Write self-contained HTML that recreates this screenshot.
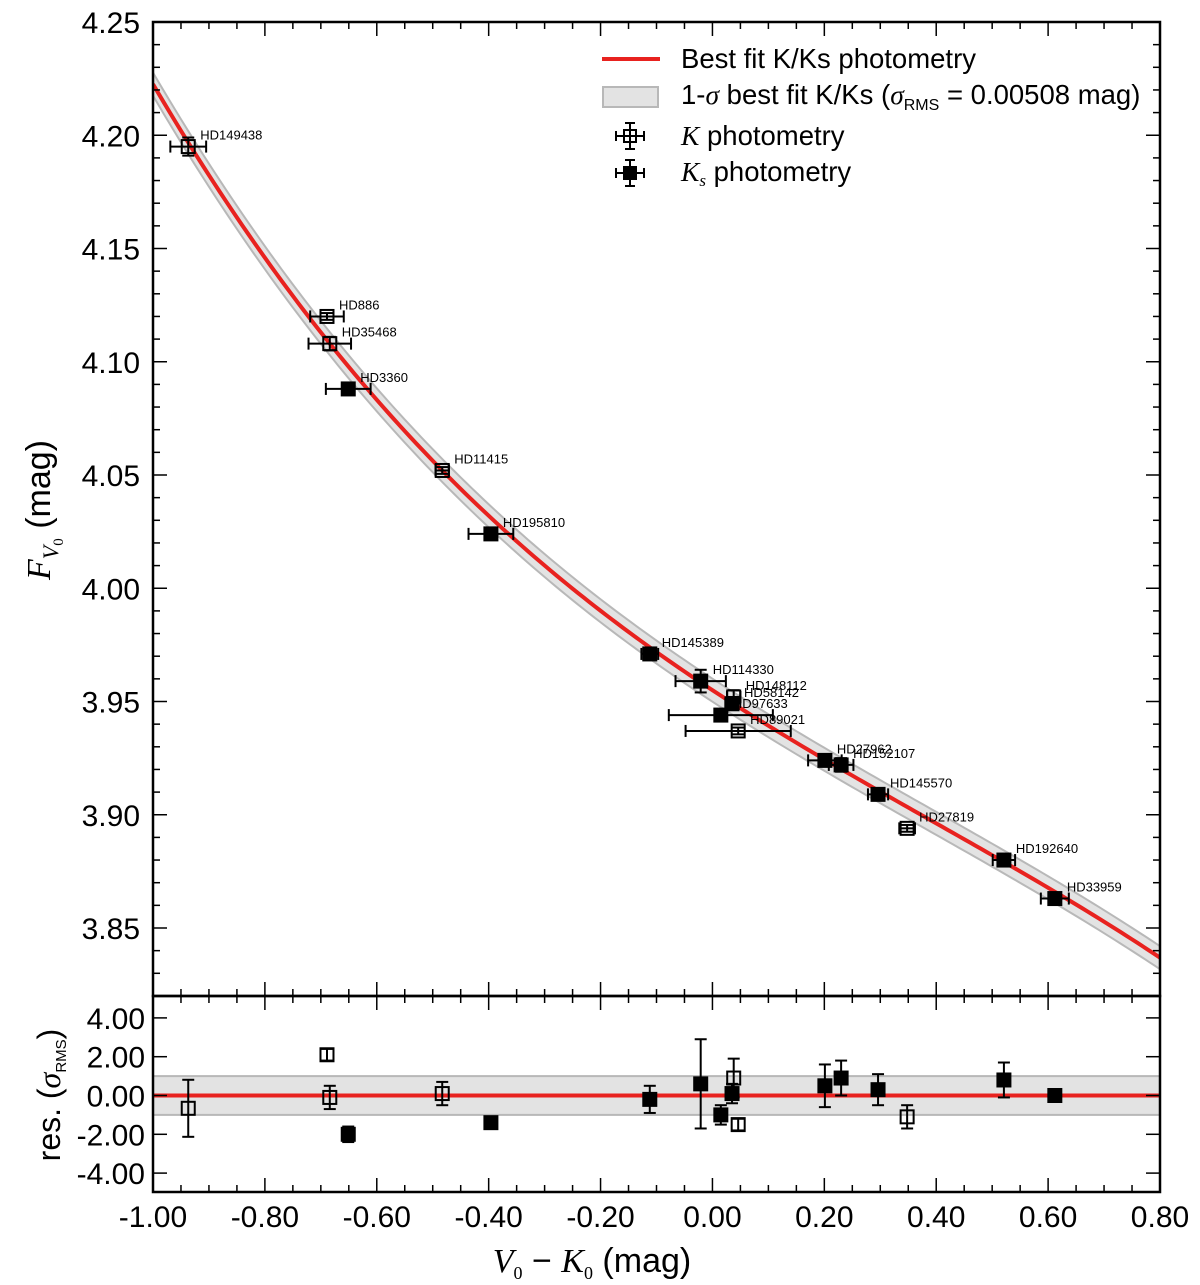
<!DOCTYPE html>
<html><head><meta charset="utf-8"><style>
html,body{margin:0;padding:0;background:#fff;}
svg{display:block;font-family:"Liberation Sans",sans-serif;}
</style></head><body>
<svg id="chart" width="1200" height="1285" viewBox="0 0 1200 1285"></svg>
<script>
// ---- data ----
const stars = ["HD149438","HD886","HD35468","HD3360","HD11415","HD195810","HD145389","HD114330","HD97633","HD58142","HD148112","HD89021","HD27962","HD152107","HD145570","HD27819","HD192640","HD33959"];
const xVals = [-0.937,-0.689,-0.684,-0.651,-0.483,-0.396,-0.112,-0.021,0.015,0.035,0.038,0.046,0.201,0.230,0.296,0.348,0.521,0.612];
const yVals = [4.195,4.120,4.108,4.088,4.052,4.024,3.971,3.959,3.944,3.949,3.952,3.937,3.924,3.922,3.909,3.894,3.880,3.863];
const xErr = [0.032,0.030,0.038,0.040,0.012,0.040,0.015,0.045,0.093,0.012,0.012,0.094,0.030,0.022,0.018,0.014,0.020,0.025];
const yErr = [0.0040,0.0015,0.0030,0.0020,0.0015,0.0020,0.0020,0.0050,0.0020,0.0020,0.0030,0.0015,0.0025,0.0030,0.0020,0.0015,0.0025,0.0015];
const isKs = [0,0,0,1,0,1,1,1,1,1,0,0,1,1,1,0,1,1];
const resVals = [-0.66,2.1,-0.1,-2.0,0.1,-1.4,-0.2,0.6,-1.0,0.1,0.9,-1.5,0.5,0.9,0.3,-1.1,0.8,0.0];
const resErr = [1.47,0.3,0.6,0.4,0.6,0.3,0.7,2.3,0.5,0.5,1.0,0.3,1.1,0.9,0.8,0.6,0.9,0.3];
const fitCoef = [3.955,-0.1620,0.0569,-0.04866];
const sigmaRms = 0.00508;
const xTicks = [-1.0,-0.8,-0.6,-0.4,-0.2,0.0,0.2,0.4,0.6,0.8];
const xTickLabels = ["-1.00","-0.80","-0.60","-0.40","-0.20","0.00","0.20","0.40","0.60","0.80"];
const yTicks = [3.85,3.90,3.95,4.00,4.05,4.10,4.15,4.20,4.25];
const yTickLabels = ["3.85","3.90","3.95","4.00","4.05","4.10","4.15","4.20","4.25"];
const rTicks = [-4,-2,0,2,4];
const rTickLabels = ["-4.00","-2.00","0.00","2.00","4.00"];

// ---- geometry ----
const L=153,R=1160,T=22,MB=996,RB=1192;
const X=v=>L+(v+1.0)*(R-L)/1.8;
const Y=v=>T+(4.25-v)*2265;
const RY=v=>1095.5-v*19.4;
const fit=x=>fitCoef[0]+fitCoef[1]*x+fitCoef[2]*x*x+fitCoef[3]*x*x*x;
const svg=document.getElementById('chart');
const NS='http://www.w3.org/2000/svg';
function mk(tag,attrs,parent){const e=document.createElementNS(NS,tag);for(const k in attrs)e.setAttribute(k,attrs[k]);(parent||svg).appendChild(e);return e;}

const defs=mk('defs',{});
const c1=mk('clipPath',{id:'cm'},defs);mk('rect',{x:L,y:T,width:R-L,height:MB-T},c1);
const c2=mk('clipPath',{id:'cr'},defs);mk('rect',{x:L,y:MB,width:R-L,height:RB-MB},c2);
const gm=mk('g',{'clip-path':'url(#cm)'});


const gr=mk('g',{'clip-path':'url(#cr)'});



let up=[],dn=[],ln=[];
for(let i=0;i<=180;i++){const x=-1+i*0.01;up.push(X(x)+','+Y(fit(x)+sigmaRms));dn.unshift(X(x)+','+Y(fit(x)-sigmaRms));ln.push(X(x)+','+Y(fit(x)));}
const band=mk('polygon',{points:up.concat(dn).join(' '),fill:'#e3e3e3',stroke:'#b8b8b8','stroke-width':2},gm);


const fl=mk('polyline',{points:ln.join(' '),fill:'none',stroke:'#e8221f','stroke-width':4},gm);



const rb=mk('rect',{x:L,y:RY(1),width:R-L,height:RY(-1)-RY(1),fill:'#e3e3e3',stroke:'#b8b8b8','stroke-width':2},gr);


const rl=mk('line',{x1:L,x2:R,y1:RY(0),y2:RY(0),stroke:'#e8221f','stroke-width':4},gr);



function point(g,cx,cy,x0,x1,y0,y1,filled,name){
  const p=mk('g',{},g);
  
  
  const st={stroke:'#000','stroke-width':2};
  if(x0!==null){mk('line',Object.assign({x1:x0,x2:x1,y1:cy,y2:cy},st),p);
    mk('line',Object.assign({x1:x0,x2:x0,y1:cy-6,y2:cy+6},st),p);mk('line',Object.assign({x1:x1,x2:x1,y1:cy-6,y2:cy+6},st),p);}
  mk('line',Object.assign({x1:cx,x2:cx,y1:y0,y2:y1},st),p);
  mk('line',Object.assign({x1:cx-6,x2:cx+6,y1:y0,y2:y0},st),p);mk('line',Object.assign({x1:cx-6,x2:cx+6,y1:y1,y2:y1},st),p);
  mk('rect',{x:cx-6.5,y:cy-6.5,width:13,height:13,fill:filled?'#000':'none',stroke:'#000','stroke-width':2},p);
}
for(let i=0;i<stars.length;i++){
  const cx=X(xVals[i]),cy=Y(yVals[i]);
  point(gm,cx,cy,X(xVals[i]-xErr[i]),X(xVals[i]+xErr[i]),Y(yVals[i]+yErr[i]),Y(yVals[i]-yErr[i]),isKs[i],'point-'+stars[i].toLowerCase());
  const t=mk('text',{x:cx+12,y:cy-7,'font-size':13,fill:'#000'});t.textContent=stars[i];
  
  
  const rx=X(xVals[i]),ry=RY(resVals[i]);
  point(gr,rx,ry,null,null,RY(resVals[i]+resErr[i]),RY(resVals[i]-resErr[i]),isKs[i],'residual-'+stars[i].toLowerCase());
}

const f1=mk('rect',{x:L,y:T,width:R-L,height:MB-T,fill:'none',stroke:'#000','stroke-width':2.5});

const f2=mk('rect',{x:L,y:MB,width:R-L,height:RB-MB,fill:'none',stroke:'#000','stroke-width':2.5});


const tk={stroke:'#000','stroke-width':1.5};
for(let i=0;i<=36;i++){const v=-1+i*0.05;const px=X(v);const maj=i%4===0;const len=maj?14:7;
  for(const [yb,yt] of [[MB,T],[RB,MB]]){mk('line',Object.assign({x1:px,x2:px,y1:yb,y2:yb-len},tk));mk('line',Object.assign({x1:px,x2:px,y1:yt,y2:yt+len},tk));}}
xTicks.forEach((v,i)=>{const t=mk('text',{x:X(v),y:1227,'font-size':30,'text-anchor':'middle'});t.textContent=xTickLabels[i];
  });
for(let i=0;i<=43;i++){const v=3.82+i*0.01;const py=Y(v);if(py<T||py>MB)continue;const maj=Math.abs((v*100)%5)<0.01||Math.abs((v*100)%5-5)<0.01;const len=maj?14:7;
  mk('line',Object.assign({x1:L,x2:L+len,y1:py,y2:py},tk));mk('line',Object.assign({x1:R,x2:R-len,y1:py,y2:py},tk));}
yTicks.forEach((v,i)=>{const t=mk('text',{x:140,y:Y(v)+11,'font-size':30,'text-anchor':'end'});t.textContent=yTickLabels[i];
  });
rTicks.forEach((v,i)=>{const py=RY(v);mk('line',Object.assign({x1:L,x2:L+14,y1:py,y2:py},tk));mk('line',Object.assign({x1:R,x2:R-14,y1:py,y2:py},tk));
  const t=mk('text',{x:145,y:py+11,'font-size':30,'text-anchor':'end'});t.textContent=rTickLabels[i];
  });
</script>
<svg width="1200" height="1285" style="position:absolute;left:0;top:0">
 <g transform="translate(50,510) rotate(-90)">
  <text text-anchor="middle" font-size="34"><tspan font-family="Liberation Serif,serif" font-style="italic">F</tspan><tspan font-family="Liberation Serif,serif" font-style="italic" font-size="22" dy="8">V</tspan><tspan font-family="Liberation Serif,serif" font-size="15" dy="5">0</tspan><tspan dy="-13"> (mag)</tspan></text>
 </g>
 <g transform="translate(60,1095) rotate(-90)">
  <text text-anchor="middle" font-size="32">res. (<tspan font-family="Liberation Serif,serif" font-style="italic">σ</tspan><tspan font-size="15" dy="6">RMS</tspan><tspan dy="-6">)</tspan></text>
 </g>
 <text x="592" y="1272" text-anchor="middle" font-size="34"><tspan font-family="Liberation Serif,serif" font-style="italic">V</tspan><tspan font-family="Liberation Serif,serif" font-size="18" dy="7">0</tspan><tspan dy="-7"> − </tspan><tspan font-family="Liberation Serif,serif" font-style="italic">K</tspan><tspan font-family="Liberation Serif,serif" font-size="18" dy="7">0</tspan><tspan dy="-7"> (mag)</tspan></text>
 <g font-size="27.5">
  <line x1="602" x2="660" y1="59" y2="59" stroke="#e8221f" stroke-width="4"/>
  <text x="681" y="68">Best fit K/Ks photometry</text>
  <rect x="603" y="87" width="55" height="20" fill="#e3e3e3" stroke="#b8b8b8" stroke-width="2"/>
  <text x="681" y="104">1-<tspan font-family="Liberation Serif,serif" font-style="italic">σ</tspan> best fit K/Ks (<tspan font-family="Liberation Serif,serif" font-style="italic">σ</tspan><tspan font-size="16" dy="6">RMS</tspan><tspan dy="-6"> = 0.00508 mag)</tspan></text>
  <g stroke="#000" stroke-width="2" fill="none">
   <line x1="616" x2="644" y1="136" y2="136"/><line x1="616" x2="616" y1="131" y2="141"/><line x1="644" x2="644" y1="131" y2="141"/>
   <line x1="630" x2="630" y1="123" y2="149"/><line x1="625" x2="635" y1="123" y2="123"/><line x1="625" x2="635" y1="149" y2="149"/>
   <rect x="624" y="130" width="12" height="12"/>
   <line x1="616" x2="644" y1="173" y2="173"/><line x1="616" x2="616" y1="168" y2="178"/><line x1="644" x2="644" y1="168" y2="178"/>
   <line x1="630" x2="630" y1="160" y2="186"/><line x1="625" x2="635" y1="160" y2="160"/><line x1="625" x2="635" y1="186" y2="186"/>
   <rect x="624" y="167" width="12" height="12" fill="#000"/>
  </g>
  <text x="681" y="145"><tspan font-family="Liberation Serif,serif" font-style="italic">K</tspan> photometry</text>
  <text x="681" y="181"><tspan font-family="Liberation Serif,serif" font-style="italic">K</tspan><tspan font-family="Liberation Serif,serif" font-style="italic" font-size="17" dy="5">s</tspan><tspan dy="-5"> photometry</tspan></text>
 </g>
</svg>
</body></html>
